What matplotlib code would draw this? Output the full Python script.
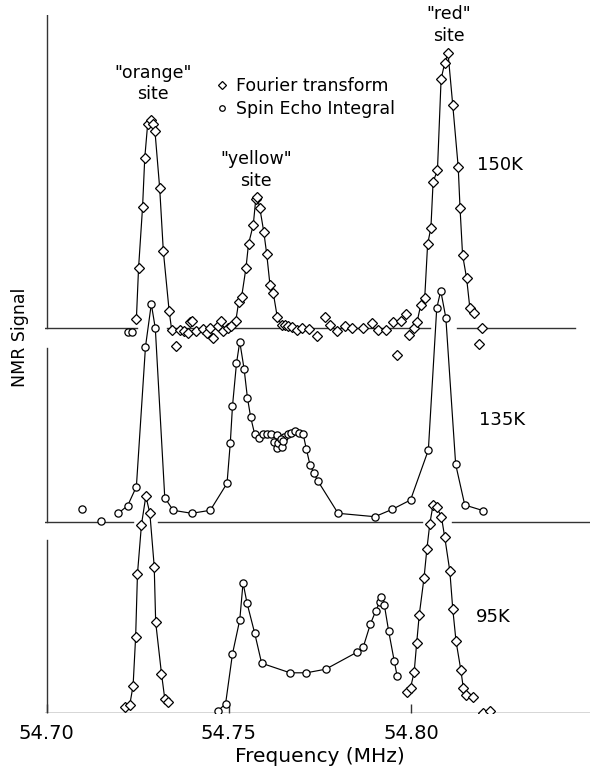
import matplotlib
matplotlib.use("Agg")
import matplotlib.pyplot as plt
from matplotlib.lines import Line2D

# ---------------- data ----------------
# offsets of the three spectra (signal units)
temps = ["150K", "135K", "95K"]
offsets = [384.5, 191.0, 0.0]

# 150 K, Fourier transform (diamonds) - peaks drawn with lines
ft150_orange_f = [54.7246, 54.7252, 54.7263, 54.7269, 54.7277, 54.7285, 54.7292, 54.7297,
                  54.7310, 54.7320, 54.7336, 54.7343]
ft150_orange_s = [9, 60, 121, 170, 204, 208, 204, 197, 140, 77, 17, -2]
ft150_yellow_f = [54.7519, 54.7527, 54.7535, 54.7547, 54.7554, 54.7567, 54.7574, 54.7578,
                  54.7585, 54.7596, 54.7604, 54.7613, 54.7622, 54.7633, 54.7645]
ft150_yellow_s = [7, 26, 31, 60, 84, 103, 129, 131, 120, 96, 74, 43, 35, 11, 3]
ft150_red_f = [54.8008, 54.8017, 54.8027, 54.8038, 54.8046, 54.8055, 54.8061, 54.8073,
               54.8083, 54.8093, 54.8102, 54.8115, 54.8130, 54.8135, 54.8142, 54.8153,
               54.8162, 54.8174]
ft150_red_s = [0, 6, 23, 30, 84, 100, 146, 158, 249, 265, 275, 223, 161, 120, 73, 50, 20, 15]
# 150 K baseline noise points (markers only)
ft150_noise_f = [54.7356, 54.7365, 54.7377, 54.7387, 54.7393, 54.7400, 54.7409, 54.7428,
                 54.7439, 54.7448, 54.7457, 54.7471, 54.7478, 54.7484, 54.7498, 54.7506,
                 54.7654, 54.7663, 54.7674, 54.7686, 54.7700, 54.7721, 54.7741, 54.7764,
                 54.7779, 54.7798, 54.7819, 54.7839, 54.7869, 54.7892, 54.7910, 54.7931,
                 54.7951, 54.7963, 54.7974, 54.7986, 54.7995, 54.8187, 54.8194]
ft150_noise_s = [-18, -2, -2.7, -5, 6, 6.6, -2.7, -1,
                 -5, 0, -10, 1.6, 6.6, -2.7, 0, 1.6,
                 2.7, 1.6, 0.6, -1.7, 0, -0.6, -8, 11,
                 3.4, -3, 2, 0, 0.4, 5, -1.6, -1.6,
                 6, -27, 6.7, 13.7, -7, -15.6, 0]
echo150_f = [54.7223, 54.7233]
echo150_s = [-4, -4]

# 135 K, spin echo integral (circles)
se135_f = [54.7196, 54.7222, 54.7246, 54.7271, 54.7287, 54.7298, 54.7324, 54.7347,
           54.7398, 54.7449, 54.7495, 54.7504, 54.7510, 54.7521, 54.7530, 54.7542,
           54.7551, 54.7560, 54.7571, 54.7582, 54.7593, 54.7604, 54.7615, 54.7633,
           54.7652, 54.7663, 54.7672, 54.7683, 54.7693, 54.7704, 54.7713, 54.7723,
           54.7734, 54.7744, 54.7800, 54.7901, 54.7949, 54.7999, 54.8048, 54.8071,
           54.8082, 54.8096, 54.8123, 54.8148, 54.8199]
se135_s = [8.2, 15.8, 34.8, 174.8, 217.5, 193.2, 23.8, 11.2,
           8.2, 11.2, 38.2, 78.8, 115.5, 158.2, 179.8, 152.2,
           123.8, 104.2, 87.2, 83.2, 87.5, 87.5, 87.5, 86.5,
           84.8, 87.5, 88.2, 90.8, 88.2, 87.5, 72.2, 56.5,
           48.2, 40.8, 8.2, 4.8, 12.2, 21.5, 71.5, 213.2,
           230.8, 203.8, 57.2, 16.5, 10.8]
se135_extra_f = [54.7097, 54.7148, 54.7624, 54.7631, 54.7635, 54.7642, 54.7645, 54.7649]
se135_extra_s = [12.8, 0.5, 79.8, 73.2, 78.2, 82.2, 74.8, 80.8]

# 95 K
ft95_orange_f = [54.7214, 54.7228, 54.7237, 54.7244, 54.7249, 54.7260, 54.7272, 54.7283,
                 54.7295, 54.7299, 54.7315, 54.7324, 54.7334]
ft95_orange_s = [6, 8, 27, 76, 138.7, 188, 216.3, 199.3, 146, 90.3, 38.7, 13.7, 10.3]
se95_f = [54.7471, 54.7491, 54.7510, 54.7530, 54.7539, 54.7550, 54.7571, 54.7590,
          54.7668, 54.7713, 54.7766, 54.7852, 54.7869, 54.7889, 54.7904, 54.7915,
          54.7917, 54.7927, 54.7939, 54.7954, 54.7962]
se95_s = [2, 8.7, 58.7, 92.7, 129.7, 109.3, 79.3, 49.3,
          39.7, 39.7, 43.3, 60.3, 65.3, 88.7, 102, 111,
          115.3, 107.7, 81.3, 52, 37]
ft95_red_f = [54.7988, 54.7999, 54.8009, 54.8016, 54.8023, 54.8036, 54.8044, 54.8052,
              54.8061, 54.8071, 54.8084, 54.8093, 54.8107, 54.8115, 54.8124, 54.8137,
              54.8144, 54.8151, 54.8171]
ft95_red_s = [20.3, 24.7, 40.3, 69.7, 97.7, 134.3, 163.7, 188.7,
              208, 205.3, 195.3, 175.3, 141.3, 103.7, 71.3, 43,
              24.7, 18, 16]
ft95_extra_f = [54.8197, 54.8217]
ft95_extra_s = [0, 2]

xticks = [54.70, 54.75, 54.80]
xticklabels = ["54.70", "54.75", "54.80"]

# ---------------- figure ----------------
W, H = 590, 771
fig = plt.figure(figsize=(W / 100, H / 100), dpi=100)
x0, x1 = 45, 590
y_base, y_top = 712.5, 15
ax = fig.add_axes([x0 / W, (H - y_base) / H, (x1 - x0) / W, (y_base - y_top) / H])
XL = (54.6995, 54.8492)
ax.set_xlim(*XL)
ax.set_ylim(0, y_base - y_top)
for s in ax.spines.values():
    s.set_visible(False)
ax.set_yticks([])

lw = 0.85
dkw = dict(marker="D", ms=5.4, mfc="white", mec="black", mew=0.9, color="black", lw=lw)
ckw = dict(marker="o", ms=5.2, mfc="white", mec="black", mew=0.9, color="black", lw=lw)

def sh(vals, off):
    return [v + off for v in vals]

o150, o135, o95 = offsets

# baselines (with gaps where lower curves pass)
axc = dict(color="#333333", lw=1.0, zorder=1)
for a, b in [(XL[0], 54.7247), (54.7330, 54.8052), (54.8126, 54.8451)]:
    ax.plot([a, b], [o150, o150], **axc)
for a, b in [(XL[0], 54.7236), (54.7305, 54.8030), (54.8113, XL[1])]:
    ax.plot([a, b], [o135, o135], **axc)
ax.plot([XL[0], XL[1]], [o95, o95], **axc)
# vertical signal axes
ax.plot([54.70, 54.70], [o150, 697.5], **axc)
ax.plot([54.70, 54.70], [o135, 364.5], **axc)
ax.plot([54.70, 54.70], [o95, 172.5], **axc)

# 150 K
ax.plot(ft150_orange_f, sh(ft150_orange_s, o150), zorder=3, **dkw)
ax.plot(ft150_yellow_f, sh(ft150_yellow_s, o150), zorder=3, **dkw)
ax.plot(ft150_red_f, sh(ft150_red_s, o150), zorder=3, **dkw)
ax.plot(ft150_noise_f, sh(ft150_noise_s, o150), ls="none", zorder=3, **dkw)
ax.plot(echo150_f, sh(echo150_s, o150), ls="none", zorder=3, **ckw)
# 135 K
ax.plot(se135_f, sh(se135_s, o135), zorder=3, **ckw)
ax.plot(se135_extra_f, sh(se135_extra_s, o135), ls="none", zorder=3, **ckw)
# 95 K
ax.plot(ft95_orange_f, sh(ft95_orange_s, o95), zorder=3, **dkw)
ax.plot(se95_f, sh(se95_s, o95), zorder=3, **ckw)
ax.plot(ft95_red_f, sh(ft95_red_s, o95), zorder=3, **dkw)
ax.plot(ft95_extra_f, sh(ft95_extra_s, o95), ls="none", zorder=3, **dkw)

# ticks
ax.set_xticks(xticks)
ax.set_xticklabels(xticklabels, fontsize=14)
ax.tick_params(axis="x", direction="in", length=6.5, width=1.0, pad=8, color="#333333")

# annotations
tk = dict(ha="center", va="center", fontsize=12.5, linespacing=1.25)
ax.text(54.7291, 629, '"orange"\nsite', **tk)
ax.text(54.7575, 542.5, '"yellow"\nsite', **tk)
ax.text(54.8104, 687.5, '"red"\nsite', **tk)
ax.text(54.8245, 547.5, "150K", ha="center", va="center", fontsize=13)
ax.text(54.8250, 292.5, "135K", ha="center", va="center", fontsize=13)
ax.text(54.8226, 96, "95K", ha="center", va="center", fontsize=13)

handles = [Line2D([], [], ls="none", marker="D", ms=4, mfc="white", mec="black", mew=0.9),
           Line2D([], [], ls="none", marker="o", ms=4, mfc="white", mec="black", mew=0.9)]
leg = ax.legend(handles, ["Fourier transform", "Spin Echo Integral"], loc="upper left",
                bbox_to_anchor=(217 / W, 1 - 77 / H), bbox_transform=fig.transFigure,
                frameon=False, fontsize=12.5, handlelength=0.6, handletextpad=0.5,
                labelspacing=0.3, borderpad=0, borderaxespad=0)

fig.text(320 / W, 1 - 756 / H, "Frequency (MHz)", ha="center", va="center", fontsize=14.5)
fig.text(20 / W, 1 - 337 / H, "NMR Signal", ha="center", va="center", rotation=90, fontsize=12.5)

fig.savefig("out.png", dpi=100)
